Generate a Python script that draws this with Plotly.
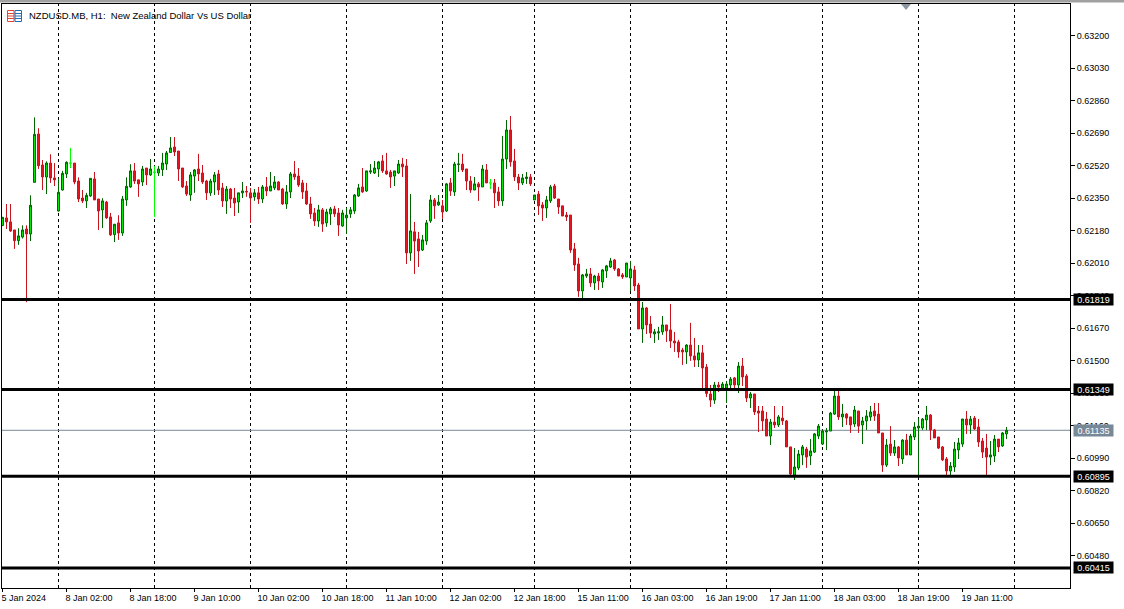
import numpy as np
import plotly.graph_objects as go

# Prices in MT5 points (1 point = 0.00001)
opens_pts = [
62206,62246,62225,62183,62127,62146,62188,62162,62432,62685,
62523,62460,62533,62455,62282,62392,62476,62532,62533,62439,
62350,62335,62361,62450,62345,62288,62329,62251,62159,62220,
62167,62340,62408,62492,62445,62434,62507,62471,62483,62481,
62499,62528,62588,62617,62596,62507,62413,62366,62465,62502,
62481,62439,62377,62434,62476,62403,62335,62397,62350,62329,
62377,62385,62377,62356,62377,62345,62408,62387,62403,62434,
62397,62319,62382,62476,62465,62429,62387,62319,62272,62230,
62288,62220,62267,62293,62272,62204,62246,62267,62282,62361,
62408,62387,62486,62481,62502,62544,62492,62486,62465,62481,
62528,62518,62063,62173,62136,62078,62125,62230,62340,62314,
62309,62282,62429,62382,62525,62528,62502,62439,62392,62424,
62408,62497,62428,62429,62382,62335,62554,62706,62544,62460,
62429,62452,62460,62340,62371,62314,62298,62335,62413,62345,
62309,62261,62261,62084,62005,61864,61942,61953,61906,61942,
61911,61969,61989,62026,61979,61948,61937,61932,61974,61895,
61665,61775,61691,61639,61644,61650,61686,61660,61602,61597,
61555,61545,61581,61524,61503,61540,61466,61325,61293,61372,
61356,61356,61372,61409,61372,61471,61419,61304,61325,61236,
61236,61194,61105,61178,61163,61199,61184,61048,60901,60938,
61006,61037,61001,61021,61105,61063,61126,61131,61220,61314,
61205,61220,61205,61168,61236,61163,61184,61205,61236,61220,
61121,60953,61063,61016,61048,60985,61084,61006,61100,61147,
61147,61189,61215,61137,61100,61048,60985,60922,60943,61032,
61063,61194,61163,61199,61152,61079,61042,60995,61001,61089,
61053,61116]
highs_pts = [
62249,62319,62319,62183,62192,62207,62207,62364,62772,62715,
62549,62542,62579,62533,62453,62492,62542,62612,62533,62458,
62392,62377,62453,62486,62345,62349,62335,62272,62214,62260,
62361,62458,62527,62533,62445,62518,62507,62554,62518,62518,
62586,62596,62669,62669,62596,62507,62439,62486,62502,62581,
62523,62445,62450,62486,62497,62429,62413,62403,62403,62377,
62434,62413,62403,62397,62408,62418,62460,62486,62465,62439,
62403,62418,62486,62544,62507,62445,62429,62356,62298,62314,
62298,62293,62303,62309,62298,62288,62298,62303,62371,62424,
62507,62492,62528,62544,62544,62575,62586,62497,62492,62549,
62560,62554,62371,62225,62173,62157,62235,62366,62350,62366,
62340,62429,62455,62539,62586,62581,62502,62465,62460,62434,
62523,62528,62450,62450,62408,62675,62758,62779,62607,62476,
62476,62486,62476,62366,62387,62329,62361,62418,62424,62345,
62309,62277,62261,62115,62037,61953,61979,61984,61948,61958,
61979,62000,62037,62031,61984,61958,62010,62021,61995,61906,
61806,61780,61733,61665,61676,61733,61686,61796,61650,61608,
61566,61585,61697,61618,61581,61581,61482,61372,61388,61388,
61388,61393,61414,61414,61492,61513,61429,61335,61325,61262,
61262,61231,61194,61262,61215,61262,61189,61048,61042,61032,
61058,61048,61089,61121,61168,61137,61147,61231,61341,61341,
61273,61225,61205,61262,61236,61205,61241,61262,61278,61278,
61121,61089,61157,61084,61053,61089,61116,61116,61178,61199,
61199,61262,61220,61142,61100,61053,60995,60969,61074,61095,
61194,61236,61210,61210,61194,61095,61116,61079,61110,61089,
61126,61152]
lows_pts = [
62206,62188,62173,62084,62105,62138,61805,62125,62431,62502,
62392,62371,62429,62413,62279,62389,62455,62507,62422,62329,
62324,62298,62356,62340,62183,62193,62241,62152,62120,62131,
62152,62309,62403,62424,62356,62413,62418,62465,62251,62465,
62465,62497,62586,62570,62439,62403,62361,62335,62377,62439,
62424,62340,62361,62366,62366,62303,62267,62298,62256,62272,
62350,62356,62220,62335,62319,62324,62361,62387,62392,62392,
62314,62293,62350,62445,62408,62345,62314,62241,62204,62199,
62173,62199,62209,62251,62152,62199,62162,62246,62267,62356,
62377,62382,62476,62476,62460,62481,62471,62403,62413,62476,
62460,62005,62021,61953,61989,62073,62105,62220,62241,62309,
62241,62277,62361,62361,62486,62486,62392,62377,62392,62335,
62408,62429,62397,62298,62309,62309,62502,62514,62439,62392,
62418,62424,62413,62340,62261,62230,62246,62324,62345,62267,
62256,62230,62063,61969,61833,61822,61932,61885,61869,61869,
61880,61932,61984,61969,61942,61927,61937,61864,61864,61665,
61592,61639,61618,61592,61608,61634,61597,61566,61545,61514,
61477,61482,61498,61466,61466,61351,61309,61257,61273,61335,
61351,61278,61351,61341,61330,61367,61283,61252,61215,61126,
61131,61105,61058,61147,61152,61163,61048,60896,60875,60927,
60953,60938,60953,61016,61089,61058,61032,61131,61215,61189,
61152,61163,61121,61152,61121,61063,61137,61184,61184,61121,
60917,60943,61001,61001,60948,60959,61006,61006,61084,60901,
61137,61137,61084,61095,61037,60974,60901,60901,60917,60985,
61048,61116,61116,61137,61048,60990,60901,60953,60969,61021,
61048,61089]
closes_pts = [
62249,62225,62178,62127,62152,62183,62162,62312,62683,62519,
62460,62533,62455,62445,62380,62479,62537,62533,62434,62345,
62335,62364,62453,62340,62282,62335,62246,62157,62213,62167,
62345,62411,62492,62439,62424,62502,62471,62502,62486,62502,
62533,62586,62612,62591,62502,62408,62371,62471,62497,62476,
62434,62377,62439,62471,62392,62335,62397,62345,62324,62377,
62387,62382,62350,62377,62345,62408,62387,62413,62434,62392,
62319,62382,62476,62460,62418,62382,62319,62267,62230,62288,
62214,62277,62293,62267,62209,62272,62261,62288,62366,62403,
62382,62492,62492,62507,62539,62492,62476,62460,62492,62528,
62513,62063,62178,62125,62073,62131,62220,62340,62309,62329,
62277,62424,62387,62528,62528,62497,62439,62392,62424,62408,
62502,62429,62429,62377,62335,62554,62706,62539,62460,62429,
62455,62460,62424,62366,62309,62298,62340,62408,62350,62303,
62256,62251,62078,62000,61864,61948,61953,61906,61942,61916,
61974,61995,62021,61979,61942,61937,62010,61979,61890,61665,
61775,61686,61644,61650,61650,61686,61655,61602,61592,61545,
61545,61581,61524,61503,61540,61461,61328,61293,61372,61361,
61377,61377,61403,61372,61471,61414,61304,61325,61231,61225,
61184,61105,61178,61163,61205,61184,61048,60906,60943,61011,
61048,60995,61027,61116,61157,61131,61131,61225,61314,61205,
61220,61199,61163,61241,61157,61184,61210,61231,61210,61121,
60953,61058,61016,61048,60990,61084,61006,61105,61152,61157,
61194,61215,61137,61095,61042,60980,60922,60948,61037,61069,
61194,61163,61194,61142,61074,61021,60995,61006,61089,61048,
61121,61135]
doji_bars = [17, 38, 122]

y_tick_values = [0.63200, 0.63030, 0.62860, 0.62690, 0.62520, 0.62350, 0.62180, 0.62010, 0.61840,
                 0.61670, 0.61500, 0.61330, 0.61160, 0.60990, 0.60820, 0.60650, 0.60480]
x_tick_bars = [0, 16, 32, 48, 64, 80, 96, 112, 128, 144, 160, 176, 192, 208, 224, 240]
x_tick_labels = ["5 Jan 2024", "8 Jan 02:00", "8 Jan 18:00", "9 Jan 10:00", "10 Jan 02:00", "10 Jan 18:00",
                 "11 Jan 10:00", "12 Jan 02:00", "12 Jan 18:00", "15 Jan 11:00", "16 Jan 03:00", "16 Jan 19:00",
                 "17 Jan 11:00", "18 Jan 03:00", "18 Jan 19:00", "19 Jan 11:00"]
day_start_bars = [14, 38, 62, 86, 110, 133, 157, 181, 205, 229, 253]
level_lines = [0.61819, 0.61349, 0.60895, 0.60415]
last_price = 0.61135
title_text = "NZDUSD.MB, H1:  New Zealand Dollar Vs US Dollar"

W, H = 1124, 609
L, R, T, B = 2, 1070, 4, 588
FONT = "Liberation Sans"
FS = 9

def px(x):
    return (x - L) / (R - L)
def py(y):
    return (B - y) / (B - T)

o = np.array(opens_pts) / 1e5
h = np.array(highs_pts) / 1e5
l = np.array(lows_pts) / 1e5
c = np.array(closes_pts) / 1e5
bars = np.arange(len(o))
is_doji = np.isin(bars, doji_bars)

GREEN_LINE, GREEN_FILL = "#006400", "#00E600"
RED_LINE, RED_FILL = "#C8141E", "#E8141E"
LIME = "#00FF00"

fig = go.Figure()
fig.add_trace(go.Candlestick(
    x=bars[~is_doji], open=o[~is_doji], high=h[~is_doji], low=l[~is_doji], close=c[~is_doji],
    increasing=dict(line=dict(color=GREEN_LINE, width=1), fillcolor=GREEN_FILL),
    decreasing=dict(line=dict(color=RED_LINE, width=1), fillcolor=RED_FILL),
    whiskerwidth=0, hoverinfo="skip", showlegend=False))
fig.add_trace(go.Candlestick(
    x=bars[is_doji], open=o[is_doji], high=h[is_doji], low=l[is_doji], close=c[is_doji],
    increasing=dict(line=dict(color=LIME, width=1), fillcolor=LIME),
    decreasing=dict(line=dict(color=LIME, width=1), fillcolor=LIME),
    whiskerwidth=0, hoverinfo="skip", showlegend=False))

shapes = []
for b in day_start_bars:
    shapes.append(dict(type="line", xref="x", yref="paper", x0=b, x1=b, y0=0, y1=1, layer="below",
                       line=dict(color="black", width=1, dash="3px,3px")))
shapes.append(dict(type="line", xref="paper", yref="y", x0=0, x1=1, y0=last_price, y1=last_price, layer="below",
                   line=dict(color="#778899", width=1)))
for v in level_lines:
    shapes.append(dict(type="line", xref="paper", yref="y", x0=0, x1=1, y0=v, y1=v,
                       line=dict(color="black", width=3)))
# window strip along the top edge
shapes.append(dict(type="rect", xref="paper", yref="paper", x0=px(0), x1=px(W), y0=py(0), y1=py(2.5),
                   fillcolor="#A0A0A0", line_width=0))
# chart-shift marker
shapes.append(dict(type="path", xref="paper", yref="paper",
                   path=f"M{px(901)},{py(4)} L{px(911)},{py(4)} L{px(906)},{py(10)} Z",
                   fillcolor="#8C96A0", line_width=0))
# chart icon
for x0, x1, col in [(7.5, 14, "#E8432E"), (15, 21.5, "#1E6FB4")]:
    shapes.append(dict(type="rect", xref="paper", yref="paper", x0=px(x0), x1=px(x1), y0=py(10.5), y1=py(21.5),
                       fillcolor="white", line=dict(color=col, width=1)))
    for yy in (13.5, 16, 18.5):
        shapes.append(dict(type="line", xref="paper", yref="paper", x0=px(x0), x1=px(x1), y0=py(yy), y1=py(yy),
                           line=dict(color=col, width=1)))

ann = [dict(xref="paper", yref="paper", x=px(27), y=py(15.5), text=title_text, showarrow=False,
            xanchor="left", yanchor="middle", font=dict(family=FONT, size=9.5, color="black"))]
for v, bg in [(x, "black") for x in level_lines] + [(last_price, "#778899")]:
    ann.append(dict(xref="paper", yref="y", x=px(1073), y=v, text=f"{v:.5f}", showarrow=False,
                    xanchor="left", yanchor="middle", align="center", bgcolor=bg, width=39, height=11, borderpad=0,
                    font=dict(family=FONT, size=FS, color="white")))

fig.update_layout(
    width=W, height=H, autosize=False,
    margin=dict(l=L, r=W - R, t=T, b=H - B, pad=0),
    paper_bgcolor="white", plot_bgcolor="white",
    boxgap=0.5, boxgroupgap=0, shapes=shapes, annotations=ann, showlegend=False,
    xaxis=dict(range=[-0.125, 266.875], rangeslider=dict(visible=False), showgrid=False, zeroline=False,
               showline=True, mirror=True, linecolor="black", linewidth=1,
               tickmode="array", tickvals=x_tick_bars, ticktext=x_tick_labels,
               ticks="outside", ticklen=3, tickcolor="black", tickwidth=1,
               ticklabelposition="outside right", tickangle=0, ticklabelshift=-2, ticklabelstandoff=1,
               tickfont=dict(family=FONT, size=FS, color="black")),
    yaxis=dict(range=[0.6031, 0.63365], side="right", showgrid=False, zeroline=False,
               showline=True, mirror=True, linecolor="black", linewidth=1,
               tickmode="array", tickvals=y_tick_values, ticktext=[f"{v:.5f}" for v in y_tick_values],
               ticks="outside", ticklen=4, tickcolor="black", tickwidth=1,
               tickfont=dict(family=FONT, size=FS, color="black")),
)
fig.write_html("out.html", config={"displayModeBar": False},
               post_script="document.body.style.margin='0';document.body.style.overflow='hidden';")
